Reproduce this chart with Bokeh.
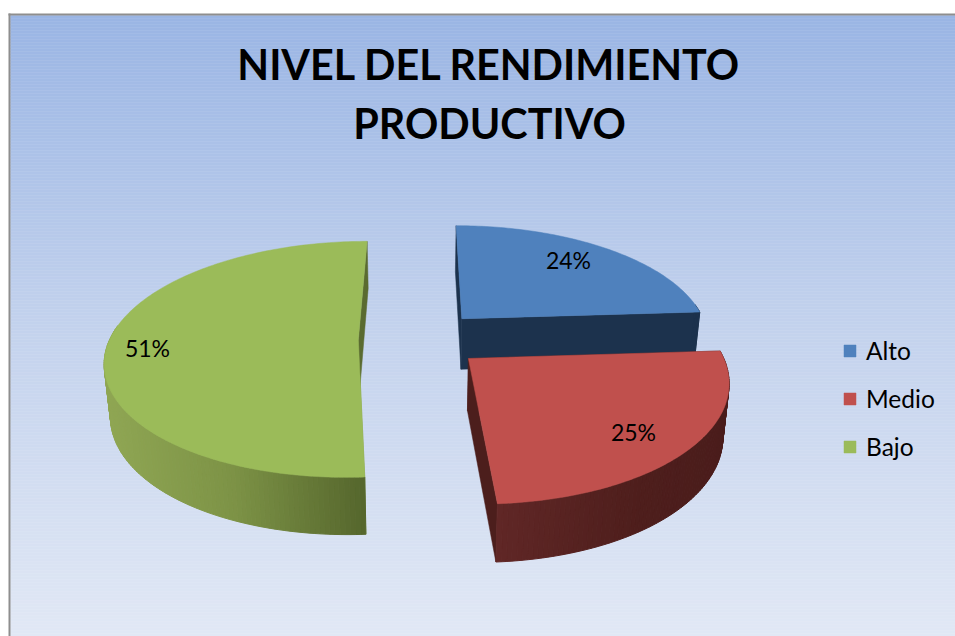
import numpy as np
from bokeh.embed import file_html
from bokeh.resources import INLINE
from bokeh.plotting import figure
from bokeh.models import Legend, LegendItem
from bokeh.core.properties import value

# ---- chart data ----
title_lines = ["NIVEL DEL RENDIMIENTO", "PRODUCTIVO"]
categories = ["Alto", "Medio", "Bajo"]
percentages = [24, 25, 51]
top_colors = ["#4f81bd", "#c0504d", "#9bbb59"]
explosion = 0.25

# ---- styles: face colours of each slice ----
radial_start_colors = ["#1c324d", "#4c1e1c", "#87a04b"]
radial_end_colors = ["#1c324d", "#4c1e1c", "#5a6b30"]
rim_stops = [
    ([0, 1000], ["#1c324d", "#1c324d"]),
    ([497, 640, 730], ["#602726", "#4e1e1c", "#4a1c1b"]),
    ([105, 230, 364], ["#8fa653", "#7d9346", "#55662d"]),
]

W, H = 955, 636
# perspective projection of the pie plane (page pixels)
CX, CY, RX, RY, K = 420.0, 338.5, 248.5, 114.5, 0.1645
DEPTH, KD, SHRINK = 51.5, 0.10, 0.98


def project(X, Y):
    d = 1 - K * Y
    return CX + RX * X / d, CY + RY * Y / d


def project_low(X, Y):
    x, y = project(X, Y)
    return CX + (x - CX) * SHRINK, y + DEPTH / (1 - KD * Y)


def hex_rgb(c):
    return np.array([int(c[i:i + 2], 16) for i in (1, 3, 5)], float)


def rgb_hex(v):
    return "#%02x%02x%02x" % tuple(int(round(t)) for t in v)


def ramp(x, xs, cols):
    arr = np.array([hex_rgb(c) for c in cols])
    return rgb_hex([np.interp(x, xs, arr[:, i]) for i in range(3)])


p = figure(width=W, height=H, x_range=(0, W), y_range=(H, 0),
           output_backend="svg", toolbar_location=None, min_border=0,
           background_fill_color="white", border_fill_color="white", outline_line_color=None)
p.xaxis.visible = False
p.yaxis.visible = False
p.grid.visible = False

# background gradient
edges = np.arange(15, H + 4, 3)
bg_y = [15, 325, 636]
bg_c = ["#9ab5e4", "#c3d2ed", "#e1e8f5"]
band_colors = [ramp(e, bg_y, bg_c) for e in edges[:-1]]
p.quad(left=10, right=W, top=edges[:-1], bottom=edges[1:],
       fill_color=band_colors, line_color=band_colors, line_width=0.5)
# frame
p.quad(left=[8, 8], right=[W, 10], top=[13, 13], bottom=[15, H],
       fill_color="#8e8e8e", line_color=None)

# slices
cum = np.cumsum([0] + percentages) / sum(percentages) * 2 * np.pi
tops = []
for i in range(len(percentages)):
    a0, a1 = cum[i], cum[i + 1]
    mid = (a0 + a1) / 2
    ox, oy = explosion * np.sin(mid), -explosion * np.cos(mid)
    ang = np.linspace(a0, a1, max(3, int((a1 - a0) / np.radians(1.0))))
    rx, ry = ox + np.sin(ang), oy - np.cos(ang)
    tx, ty = project(rx, ry)
    lx, ly = project_low(rx, ry)
    ax, ay = project(ox, oy)
    bx, by = project_low(ox, oy)
    # radial faces
    p.patch([ax, tx[0], lx[0], bx], [ay, ty[0], ly[0], by],
            fill_color=radial_start_colors[i], line_color=radial_start_colors[i], line_width=0.5)
    p.patch([ax, tx[-1], lx[-1], bx], [ay, ty[-1], ly[-1], by],
            fill_color=radial_end_colors[i], line_color=radial_end_colors[i], line_width=0.5)
    # rim: only the part that faces the viewer
    xs, ys, cols = [], [], []
    for j in range(len(ang) - 1):
        if -np.cos(ang[j]) < -0.12 and -np.cos(ang[j + 1]) < -0.12:
            continue
        xs.append([tx[j], tx[j + 1], lx[j + 1], lx[j]])
        ys.append([ty[j], ty[j + 1], ly[j + 1], ly[j]])
        cols.append(ramp((tx[j] + tx[j + 1]) / 2, *rim_stops[i]))
    if xs:
        p.patches(xs, ys, fill_color=cols, line_color=cols, line_width=1)
    # top
    tops.append(p.patch(np.r_[ax, tx], np.r_[ay, ty], fill_color=top_colors[i],
                        line_color=top_colors[i], line_width=0.5))

# percent labels
p.text(x=[568, 633, 147], y=[259, 431, 347], text=[f"{v}%" for v in percentages],
       text_font=value("Lato"), text_font_size="23px", text_color="#000000",
       text_align="center", text_baseline="middle")

# title
p.text(x=[489, 489], y=[63, 122.5], text=title_lines, text_font=value("Lato"),
       text_font_style="bold", text_font_size="41.3px", text_color="#000000",
       text_align="center", text_baseline="middle")

# legend
legend = Legend(items=[LegendItem(label=c, renderers=[r]) for c, r in zip(categories, tops)],
                location=(842, 175), orientation="vertical", background_fill_alpha=0,
                border_line_alpha=0, padding=0, margin=0, spacing=19,
                glyph_width=15, glyph_height=15, label_standoff=9,
                label_text_font="Lato", label_text_font_size="24.5px", label_text_color="#000000",
                label_height=29)
p.add_layout(legend, "center")

open("out.html", "w").write(file_html(p, INLINE))
